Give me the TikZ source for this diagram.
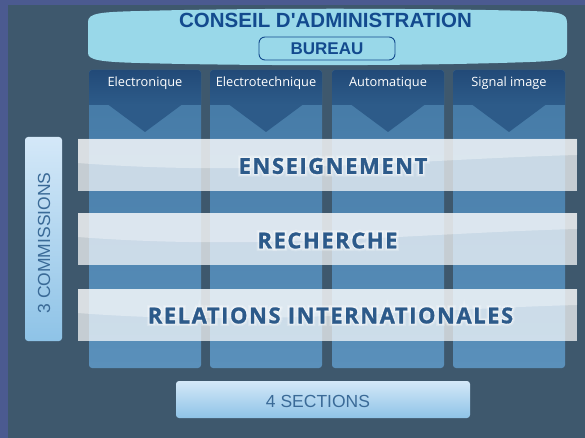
\documentclass[tikz,border=0pt]{standalone}
\usepackage{fontspec}
\setmainfont{Liberation Sans}
\newfontfamily\hum{Open Sans}
\newfontfamily\humband[LetterSpace=7,FakeBold=1.2]{Open Sans}
\newfontfamily\glowA[LetterSpace=7,FakeBold=8]{Open Sans}
\newfontfamily\glowB[LetterSpace=7,FakeBold=16]{Open Sans}
\newfontfamily\glowC[LetterSpace=7,FakeBold=26]{Open Sans}
\usetikzlibrary{calc}
\definecolor{outerbg}{HTML}{4B5A90}
\definecolor{innerbg}{HTML}{3E586D}
\definecolor{cyanbox}{HTML}{99D8E9}
\definecolor{navy}{HTML}{134A8E}
\definecolor{hdtop}{HTML}{224A78}
\definecolor{hdbot}{HTML}{2D5B89}
\definecolor{coltop}{HTML}{4479A5}
\definecolor{colbot}{HTML}{5A90BB}
\definecolor{bandtxt}{HTML}{2C5A8A}
\definecolor{lbtop}{HTML}{D4E8F8}
\definecolor{lbbot}{HTML}{8EC3E7}
\definecolor{lbtxt}{HTML}{3A6A97}
\tikzset{
  hdlabel/.style={text=white, font=\hum\fontsize{12.8}{14}\selectfont, inner sep=0pt},
  bandlabel/.style={text=bandtxt, font=\humband\bfseries\fontsize{22}{24}\selectfont, inner sep=0pt},
  glowlabel/.style 2 args={text=white, text opacity=#2, font=#1\bfseries\fontsize{22}{24}\selectfont, inner sep=0pt},
  lightbox/.style={rounded corners=3pt, top color=lbtop, bottom color=lbbot, draw=none},
  lbtext/.style={text=lbtxt, font=\fontsize{17.5}{20}\selectfont, inner sep=0pt},
}
\begin{document}
\begin{tikzpicture}[x=1pt,y=-1pt]
\useasboundingbox (0,0) rectangle (585,438);
\fill[outerbg] (0,0) rectangle (585,438);
\fill[innerbg] (8,5) rectangle (585,438);
% conseil shape
\fill[cyanbox] (88,38) -- (88,22) .. controls (88,13) and (100,12) .. (140,11)
  .. controls (250,8) and (420,8) .. (530,11) .. controls (560,12) and (567,13) .. (567,23)
  -- (567,52) .. controls (567,60) and (555,61) .. (530,62)
  .. controls (420,66) and (250,66) .. (140,63) .. controls (100,62) and (88,60) .. (88,53) -- cycle;
\node[text=navy, font=\bfseries\fontsize{20.5}{22}\selectfont, inner sep=0pt] (conseil) at (325.5,20.5) {CONSEIL D\textquotesingle ADMINISTRATION};
\node[draw=navy, line width=0.9pt, fill=cyanbox, rounded corners=6pt, minimum width=136pt, minimum height=23pt,
  text=navy, font=\bfseries\fontsize{17}{19}\selectfont, inner sep=0pt] (bureau) at (327,48.5) {BUREAU};
% columns
\foreach \x/\lab/\n in {89/Electronique/1, 210/Electrotechnique/2, 332/Automatique/3, 453/Signal image/4}{
  \path[rounded corners=3pt, top color=coltop, bottom color=colbot] (\x,70) rectangle ++(112,298);
  \path[top color=hdtop, bottom color=hdbot] [rounded corners=3pt] (\x,105) -- (\x,70) -- (\x+112,70) [sharp corners] -- (\x+112,105) -- cycle;
  \fill[hdbot] (\x+19,104.5) -- (\x+56,132) -- (\x+93,104.5) -- cycle;
  \node[hdlabel] (head\n) at (\x+56,83.5) {\lab};
}
% bands
\foreach \t in {139,213,289}{
  \fill[white, opacity=0.7] (78,\t) rectangle (577,\t+52);
  \fill[white, opacity=0.35] (78,\t) -- (577,\t) -- (577,\t+16)
     .. controls (420,\t+20) and (260,\t+38) .. (78,\t+24) -- cycle;
}
\foreach \cx/\cy/\txt/\n in {333/166/ENSEIGNEMENT/1, 327.5/240.5/RECHERCHE/2, 330.5/315.5/RELATIONS INTERNATIONALES/3}{
  \node[glowlabel={\glowC}{0.2}] (glowc\n) at (\cx,\cy) {\txt};
  \node[glowlabel={\glowB}{0.3}] (glowb\n) at (\cx,\cy) {\txt};
  \node[glowlabel={\glowA}{0.45}] (glowa\n) at (\cx,\cy) {\txt};
  \node[bandlabel] (band\n) at (\cx,\cy) {\txt};
}
% commissions
\path[lightbox] (25,137) rectangle (62,341);
\node[lbtext, rotate=90] (comm) at (44,243) {3 COMMISSIONS};
% sections
\path[lightbox] (176,381) rectangle (470,418);
\node[lbtext] (sect) at (318,401) {4 SECTIONS};
\end{tikzpicture}
\end{document}
